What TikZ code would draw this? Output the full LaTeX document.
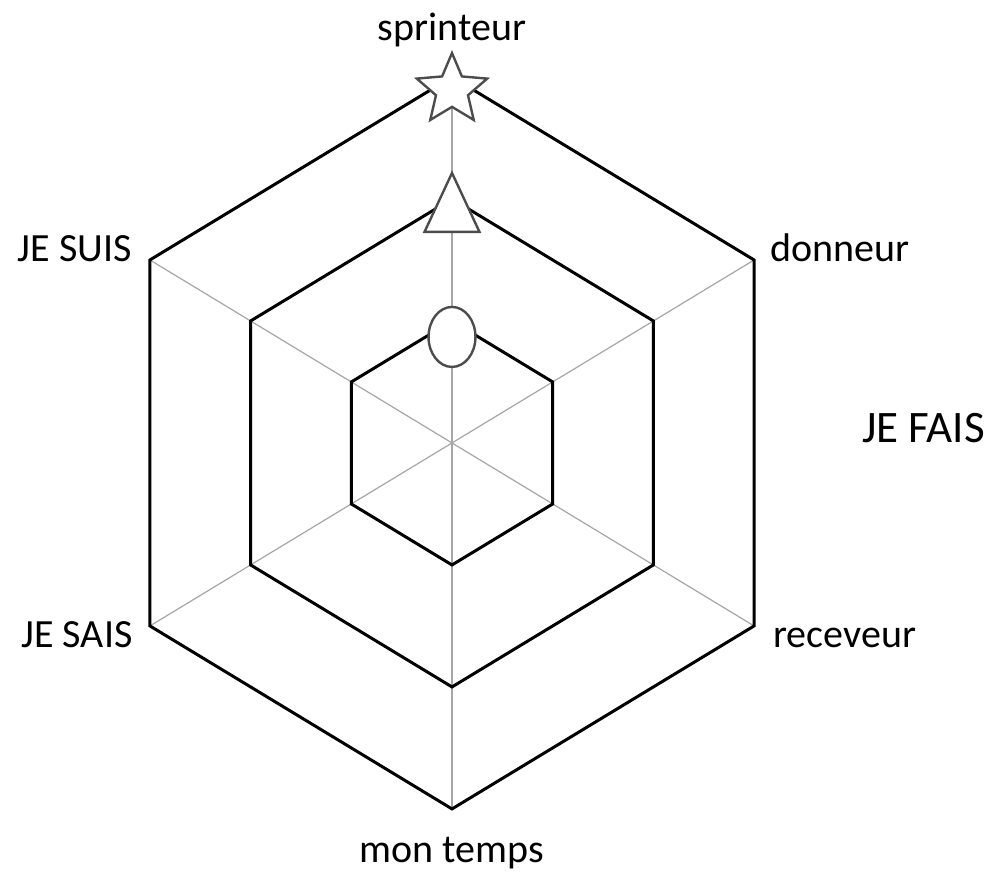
\documentclass[tikz,border=0pt]{standalone}
\usepackage{fontspec}
\setmainfont{Carlito}
\usetikzlibrary{shapes.geometric}
\begin{document}
\begin{tikzpicture}[x=50.35pt, y=61pt,
		spoke/.style={draw=gray!70, line width=0.6pt},
		ring/.style={draw=black, line width=1.5pt, line join=miter},
		marker/.style={draw=black!70, fill=white, line width=1.2pt, line join=miter},
		lbl/.style={inner sep=0pt, font=\fontsize{20}{24}\selectfont}]
	\useasboundingbox (-4.489,-3.541) rectangle (5.353,3.631);
	\coordinate (o) at (0,0);
	\coordinate (n) at (0,3);
	\coordinate (ne) at (3,1.5);
	\coordinate (se) at (3,-1.5);
	\coordinate (s) at (0,-3);
	\coordinate (sw) at (-3,-1.5);
	\coordinate (nw) at (-3,1.5);
	\draw[spoke] (n) -- (s);
	\draw[spoke] (ne) -- (sw);
	\draw[spoke] (nw) -- (se);
	\foreach \r in {1,2,3}
		\draw[ring] (0,\r) -- (\r,\r/2) -- (\r,-\r/2) -- (0,-\r) -- (-\r,-\r/2) -- (-\r,\r/2) -- cycle;
	\node[marker, star, star points=5, star point ratio=2.2, minimum size=37pt, inner sep=0pt] (etoile) at (0,2.893) {};
	\draw[marker] (0,2.213) -- (0.273,1.730) -- (-0.273,1.730) -- cycle;
	\draw[marker] (0,0.869) ellipse [x radius=0.233, y radius=0.246];
	\node[lbl, anchor=base] (sprinteur) at (0,3.303) {sprinteur};
	\node[lbl, anchor=base east] (suis) at (-3.178,1.484) {JE SUIS};
	\node[lbl, anchor=base west] (donneur) at (3.158,1.484) {donneur};
	\node[lbl, anchor=base west, font=\fontsize{22.5}{27}\selectfont] (fais) at (4.071,0) {JE FAIS};
	\node[lbl, anchor=base east] (sais) at (-3.168,-1.680) {JE SAIS};
	\node[lbl, anchor=base west] (receveur) at (3.188,-1.680) {receveur};
	\node[lbl, anchor=base] (temps) at (0,-3.443) {mon temps};
\end{tikzpicture}
\end{document}
